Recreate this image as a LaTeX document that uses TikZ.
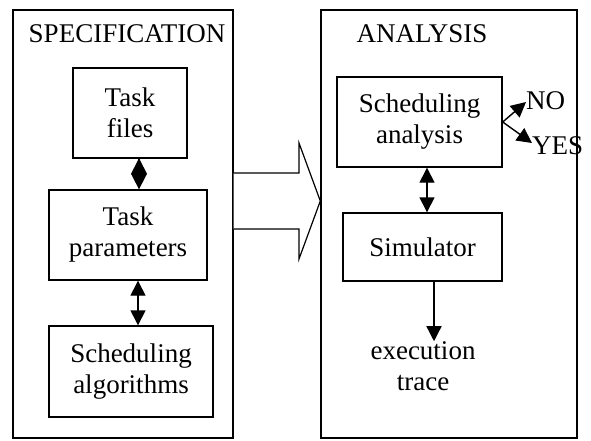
\documentclass[tikz,border=0pt]{standalone}
\usepackage{fontspec}
\setmainfont{Liberation Serif}
\usetikzlibrary{arrows.meta,calc}
\begin{document}
\begin{tikzpicture}[x=1pt,y=-1pt,
  every node/.style={font=\fontsize{27}{31}\selectfont, inner sep=0pt},
  box/.style={draw, line width=1.4pt, align=center},
  frame/.style={draw, line width=1.4pt},
  conn/.style={line width=1.4pt},
  trid/.style={-{Triangle[width=15pt,length=15pt]}},
  tridd/.style={{Triangle[width=15pt,length=15pt]}-{Triangle[width=15pt,length=15pt]}},
  diad/.style={-{Diamond[width=16pt,length=31pt]}}]
\useasboundingbox (0,0) rectangle (591,441);
% frames
\node[frame, minimum width=220pt, minimum height=428pt] (spec) at (123,224) {};
\node[frame, minimum width=256pt, minimum height=428pt] (ana) at (449,224) {};
\node[anchor=base] (spect) at (127,43) {SPECIFICATION};
\node[anchor=base] (anat) at (422,43) {ANALYSIS};
% left boxes
\node[box, minimum width=114pt, minimum height=90pt] (tf) at (130,113) {Task\\files};
\node[box, minimum width=158pt, minimum height=90pt] (tp) at (128,235) {Task\\parameters};
\node[box, minimum width=164pt, minimum height=91pt] (sal) at (131,371.5) {Scheduling\\algorithms};
% right boxes
\node[box, minimum width=165pt, minimum height=90pt] (san) at (419.5,122) {Scheduling\\analysis};
\node[box, minimum width=159pt, minimum height=68pt] (sim) at (422.5,247) {Simulator};
\node[align=center] (et) at (423,366) {execution\\trace};
\node[anchor=base west] (no) at (526,110) {NO};
\node[anchor=base west] (yes) at (532,154) {YES};
% connectors
\draw[conn, diad] ([xshift=9pt]tf.south) -- ([xshift=11pt]tp.north);
\draw[conn, tridd] ([xshift=10pt]tp.south) -- ([xshift=7pt]sal.north);
\draw[conn, tridd] ([xshift=7.5pt]san.south) -- ([xshift=4.5pt]sim.north);
\draw[conn, trid] ([xshift=11.5pt]sim.south) -- ([xshift=11pt]et.north);
\coordinate (fork) at (san.east);
\draw[conn, trid] (fork) -- (no.west |- 0,102);
\draw[conn, trid] (fork) -- (yes.west |- 0,143);
% block arrow
\draw[line width=1.2pt, fill=white]
  (spec.east |- 0,173) -- (299,173) -- (299,143) -- (ana.west |- 0,201)
  -- (299,259) -- (299,229) -- (spec.east |- 0,229);
\end{tikzpicture}
\end{document}
